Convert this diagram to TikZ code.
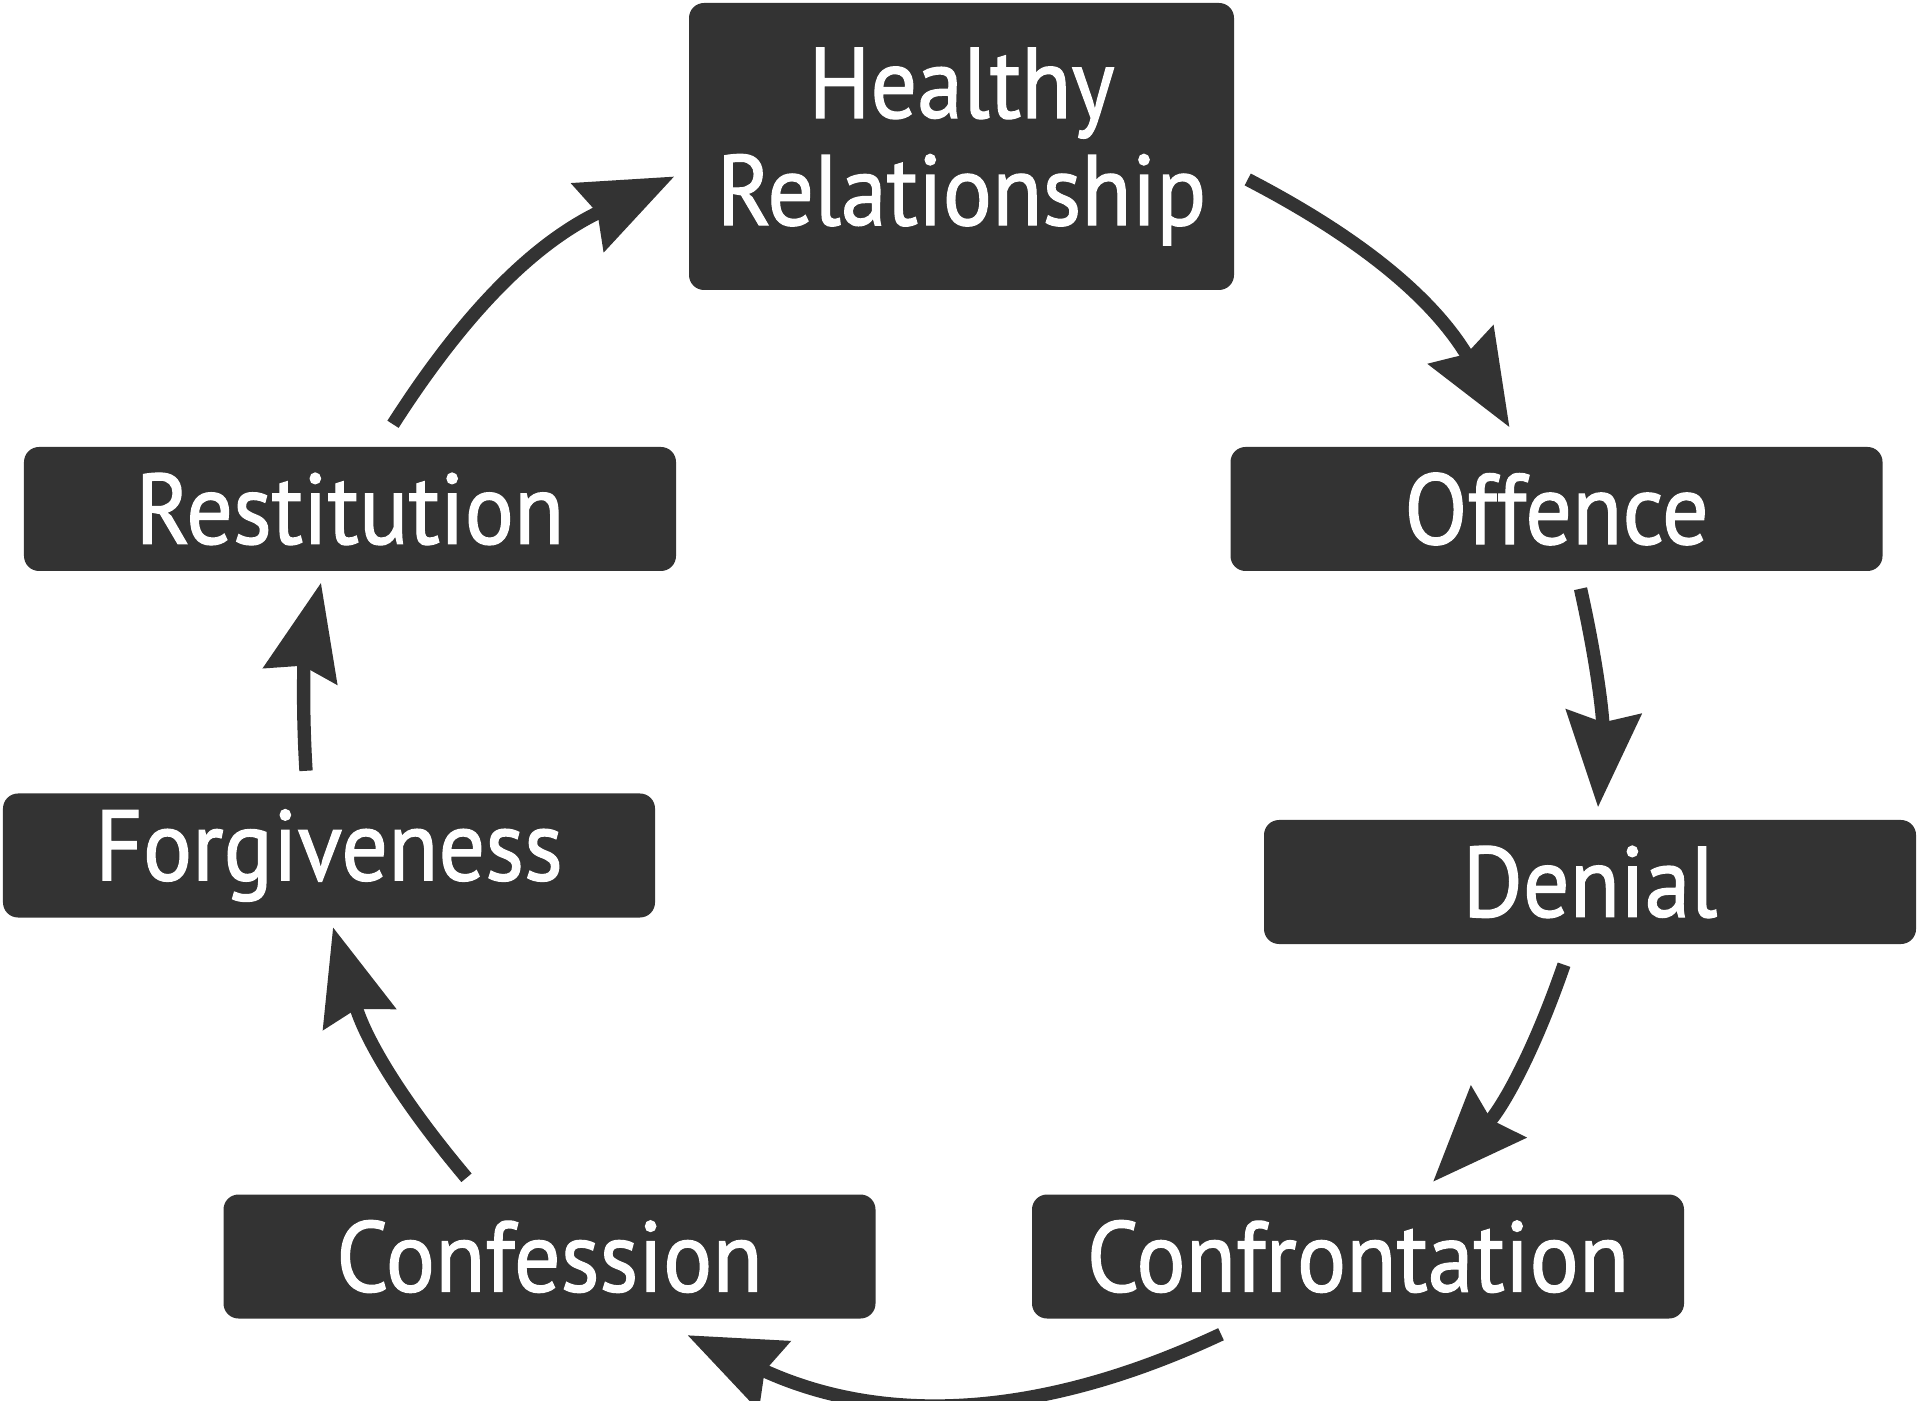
\documentclass[tikz,border=0pt]{standalone}
\usepackage{fontspec}
\newfontfamily\stagefont{PT Sans}[FakeBold=1.2, FakeStretch=0.92]
\usetikzlibrary{arrows.meta}
\definecolor{boxgray}{HTML}{333333}

\begin{document}
\begin{tikzpicture}[
    stage/.style={fill=boxgray, text=white, rounded corners=0.15cm,
      minimum width=6.52cm, minimum height=1.24cm, inner sep=0pt,
      font=\stagefont\fontsize{28.5}{30.5}\selectfont},
    cyc/.style={draw=boxgray, line width=3.8pt,
      -{Stealth[length=0.95cm, width=0.74cm, inset=0.1cm]}}
  ]
  \useasboundingbox (0,-14.01) rectangle (19.2,0);

    \node[stage, minimum width=5.45cm, minimum height=2.87cm, align=center] (hr) at (9.615,-1.465) {Healthy\\Relationship};
    \node[stage] (off) at (15.565,-5.09) {Offence};
    \node[stage] (den) at (15.9,-8.82) {Denial};
    \node[stage] (conf) at (13.58,-12.565) {Confrontation};
    \node[stage] (cnf) at (5.495,-12.565) {Confession};
    \node[stage] (forg) at (3.29,-8.555) {Forgiveness};
    \node[stage] (rest) at (3.5,-5.09) {Restitution};

  % the cycle, clockwise
  \draw[cyc] ([xshift=0.13cm,yshift=-0.33cm]hr.east) to[bend left=16] ([xshift=-0.47cm,yshift=0.19cm]off.north);
  \draw[cyc] ([xshift=0.24cm,yshift=-0.17cm]off.south) to[bend left=8] ([xshift=0.08cm,yshift=0.12cm]den.north);
  \draw[cyc] ([xshift=-0.26cm,yshift=-0.2cm]den.south) to[bend left=12] ([xshift=0.75cm,yshift=0.12cm]conf.north);
  \draw[cyc] ([xshift=-1.37cm,yshift=-0.15cm]conf.south) to[bend left=25] ([xshift=1.38cm,yshift=-0.16cm]cnf.south);
  \draw[cyc] ([xshift=-0.83cm,yshift=0.16cm]cnf.north) to[bend left=12] ([xshift=0.04cm,yshift=-0.09cm]forg.south);
  \draw[cyc] ([xshift=-0.23cm,yshift=0.22cm]forg.north) to[bend left=8] ([xshift=-0.29cm,yshift=-0.11cm]rest.south);
  \draw[cyc] ([xshift=0.43cm,yshift=0.22cm]rest.north) to[bend left=16] ([xshift=-0.14cm,yshift=-0.3cm]hr.west);
\end{tikzpicture}
\end{document}
